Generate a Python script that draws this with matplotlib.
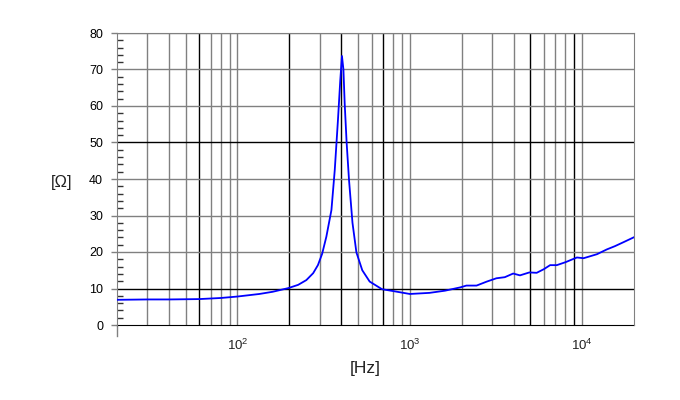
import matplotlib
matplotlib.use("Agg")
import matplotlib.pyplot as plt
from matplotlib.ticker import FixedLocator, FixedFormatter, NullLocator

# impedance curve
freq_hz = [20, 30, 40, 60, 80, 100, 134, 160, 197, 225, 251, 275, 293, 310, 328,
           351, 367, 383, 395, 404, 412, 419, 430, 444, 465, 490, 530, 585, 690,
           800, 1000, 1300, 1600, 1960, 2130, 2440, 2800, 3180, 3560, 3980, 4360,
           4940, 5450, 6000, 6520, 7130, 8000, 8900, 9330, 10200, 12200, 13900,
           15500, 17400, 19900]
impedance = [6.9, 7.0, 7.0, 7.1, 7.4, 7.8, 8.5, 9.1, 10.1, 11.0, 12.3, 14.2, 16.4,
             19.5, 24.2, 31.5, 42.5, 56.2, 67.0, 73.7, 70.0, 60.7, 50.0, 39.7, 28.0,
             19.9, 15.0, 11.9, 9.8, 9.3, 8.5, 8.8, 9.4, 10.3, 10.8, 10.8, 11.9, 12.8,
             13.1, 14.1, 13.6, 14.4, 14.3, 15.3, 16.4, 16.4, 17.2, 18.1, 18.5, 18.3,
             19.4, 20.7, 21.6, 22.7, 24.0]

grid_freqs = [30, 40, 50, 60, 70, 80, 90, 100, 200, 300, 400, 500, 600, 700, 800,
              900, 1000, 2000, 3000, 4000, 5000, 6000, 7000, 8000, 9000, 10000]
dark_freqs = [60, 200, 400, 700, 5000, 9000]
grid_levels = [10, 20, 30, 40, 50, 60, 70, 80]
dark_levels = [10, 50]
y_ticks = [0, 10, 20, 30, 40, 50, 60, 70, 80]
x_ticks = [100, 1000, 10000]
x_labels = ["$10^2$", "$10^3$", "$10^4$"]

plt.rcParams['font.family'] = ['Liberation Sans', 'DejaVu Sans']
plt.rcParams['mathtext.fontset'] = 'custom'
plt.rcParams['mathtext.rm'] = 'Liberation Sans'

fig = plt.figure(figsize=(6.8, 4.0), dpi=100)
ax = fig.add_axes([117 / 680, 75 / 400, 517 / 680, 292 / 400])

gray = '#808080'
for f in grid_freqs:
    ax.axvline(f, color='black' if f in dark_freqs else gray, lw=1.0, zorder=1)
for v in grid_levels:
    ax.axhline(v, color='black' if v in dark_levels else gray, lw=1.0, zorder=1)

ax.plot(freq_hz, impedance, color='#0000ff', lw=1.3, zorder=3)

ax.set_xscale('log')
ax.set_xlim(20, 20000)
ax.set_ylim(0, 80)

ax.xaxis.set_major_locator(FixedLocator(x_ticks))
ax.xaxis.set_major_formatter(FixedFormatter(x_labels))
ax.xaxis.set_minor_locator(NullLocator())
ax.tick_params(axis='x', length=0, pad=9, labelsize=9.5, colors='#222222')

ax.set_yticks(y_ticks)
ax.set_yticks(range(0, 81, 2), minor=True)
ax.tick_params(axis='y', which='major', direction='out', length=4.5, width=1,
               color=gray, labelsize=9, pad=5.5)
ax.tick_params(axis='y', which='minor', direction='in', length=4, width=1,
               color='#333333')

for s in ['top', 'right', 'left']:
    ax.spines[s].set_color(gray)
ax.spines['bottom'].set_color('black')
ax.spines['bottom'].set_zorder(2)
ax.plot([20, 20], [-3, 0], color=gray, lw=1, clip_on=False)

fig.text(62 / 680, 1 - 182 / 400, "[Ω]", fontsize=12, ha='center', va='center',
         color='#222222')
fig.text(365 / 680, 1 - 368 / 400, "[Hz]", fontsize=12.5, ha='center', va='center',
         color='#222222')

fig.savefig('out.png', dpi=100)
